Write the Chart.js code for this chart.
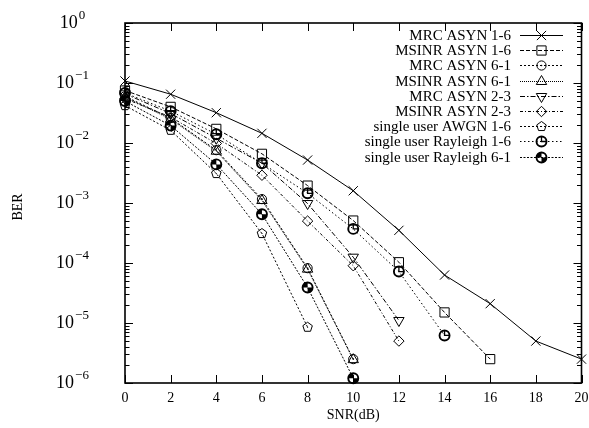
<!DOCTYPE html>
<html><head><meta charset="utf-8">
<script src="https://cdn.jsdelivr.net/npm/chart.js@4/dist/chart.umd.min.js"></script>
<style>html,body{margin:0;padding:0;background:#fff}#c{display:block}</style>
</head><body>
<canvas id="c" width="589" height="428"></canvas>
<script>
// ---- data ----
const snr = [0, 2, 4, 6, 8, 10, 12, 14, 16, 18, 20];
const xTicks = [0, 2, 4, 6, 8, 10, 12, 14, 16, 18, 20];
const yDecades = [0, -1, -2, -3, -4, -5, -6];
const seriesNames = ["MRC ASYN 1-6", "MSINR ASYN 1-6", "MRC ASYN 6-1", "MSINR ASYN 6-1",
  "MRC ASYN 2-3", "MSINR ASYN 2-3", "single user AWGN 1-6", "single user Rayleigh 1-6", "single user Rayleigh 6-1"];
const mrcAsyn16   = [0.108, 0.065, 0.032, 0.0145, 0.0052, 0.0016, 3.5e-4, 6.3e-5, 2.1e-5, 5.0e-6, 2.5e-6];
const msinrAsyn16 = [0.075, 0.040, 0.0172, 0.0066, 0.00195, 5.1e-4, 1.03e-4, 1.5e-5, 2.5e-6];
const mrcAsyn61   = [0.060, 0.026, 0.0076, 0.00116, 8.2e-5, 2.5e-6];
const msinrAsyn61 = [0.058, 0.025, 0.0073, 0.0011, 7.9e-5, 2.45e-6];
const mrcAsyn23   = [0.066, 0.031, 0.0120, 0.0046, 0.00098, 1.25e-4, 1.1e-5];
const msinrAsyn23 = [0.055, 0.027, 0.0098, 0.0029, 5.0e-4, 9.0e-5, 5.0e-6];
const awgn16      = [0.042, 0.0163, 0.0031, 3.1e-4, 8.5e-6];
const rayleigh16  = [0.068, 0.034, 0.0140, 0.0046, 0.00145, 3.7e-4, 7.2e-5, 6.2e-6];
const rayleigh61  = [0.050, 0.0195, 0.0044, 6.5e-4, 3.9e-5, 1.2e-6];

// ---- custom vector markers (drawn at the library's computed point positions) ----
function drawCustom(g, type, x, y) {
  g.save();
  g.translate(x, y);
  g.strokeStyle = '#000'; g.fillStyle = '#000';
  g.setLineDash([]);
  if (type === 'circDot') {
    g.lineWidth = 1; g.beginPath(); g.arc(0, 0, 4.6, 0, 2 * Math.PI); g.stroke();
    g.beginPath(); g.arc(0, 0, 0.8, 0, 2 * Math.PI); g.fill();
  } else if (type === 'pentagon') {
    g.lineWidth = 1; g.beginPath();
    for (let k = 0; k < 5; k++) {
      const a = -Math.PI / 2 + k * 2 * Math.PI / 5;
      const px = 5 * Math.cos(a), py = 5 * Math.sin(a);
      k ? g.lineTo(px, py) : g.moveTo(px, py);
    }
    g.closePath(); g.stroke();
    g.beginPath(); g.arc(0, 0, 0.6, 0, 2 * Math.PI); g.fill();
  } else if (type === 'clock') {
    g.lineWidth = 1.9; g.beginPath(); g.arc(0, 0, 5, 0, 2 * Math.PI); g.stroke();
    g.lineWidth = 1.3; g.beginPath(); g.moveTo(0, -5); g.lineTo(0, 0); g.lineTo(5, 0); g.stroke();
  } else if (type === 'half') {
    g.lineWidth = 1.9; g.beginPath(); g.arc(0, 0, 5, 0, 2 * Math.PI); g.stroke();
    g.beginPath(); g.moveTo(0, 0); g.arc(0, 0, 5, Math.PI, 1.5 * Math.PI); g.closePath(); g.fill();
    g.beginPath(); g.moveTo(0, 0); g.arc(0, 0, 5, 0, 0.5 * Math.PI); g.closePath(); g.fill();
  }
  g.restore();
}

const seriesValues = [mrcAsyn16, msinrAsyn16, mrcAsyn61, msinrAsyn61, mrcAsyn23, msinrAsyn23, awgn16, rayleigh16, rayleigh61];
const styles = [
  { pointStyle: 'crossRot', pointRadius: 6.5, dash: [] },
  { pointStyle: 'rect', pointRadius: 6.5, dash: [4, 2] },
  { custom: 'circDot', dash: [2, 2] },
  { pointStyle: 'triangle', pointRadius: 6, dash: [1, 1] },
  { pointStyle: 'triangle', pointRadius: 6, rotation: 180, dash: [5, 2, 1.5, 2] },
  { pointStyle: 'rectRot', pointRadius: 5.2, dash: [3, 2, 1, 2] },
  { custom: 'pentagon', dash: [2, 2] },
  { custom: 'clock', dash: [1.5, 2.5] },
  { custom: 'half', dash: [2, 1.5] }
];

const datasets = seriesValues.map((vals, i) => ({
  label: seriesNames[i],
  data: vals.map((v, j) => ({ x: snr[j], y: v })),
  borderColor: '#000',
  backgroundColor: 'rgba(0,0,0,0)',
  borderWidth: 1,
  borderDash: styles[i].dash,
  pointStyle: styles[i].pointStyle || 'circle',
  pointRadius: styles[i].custom ? 0 : styles[i].pointRadius,
  pointRotation: styles[i].rotation || 0,
  pointBorderColor: '#000',
  pointBackgroundColor: 'rgba(0,0,0,0)',
  pointBorderWidth: 1,
  markerType: styles[i].custom || null,
  tension: 0,
  clip: false
}));

const SERIF = '"Liberation Serif", "DejaVu Serif", serif';

const framePlugin = {
  id: 'frame',
  beforeDatasetsDraw(chart) {
    const { ctx, chartArea: a, scales: { x, y } } = chart;
    ctx.save();
    ctx.strokeStyle = '#000';
    ctx.lineWidth = 1.6;
    ctx.strokeRect(a.left, a.top, a.right - a.left, a.bottom - a.top);
    ctx.lineWidth = 1;
    ctx.beginPath();
    xTicks.forEach(t => {
      const px = Math.round(x.getPixelForValue(t)) + 0.5;
      ctx.moveTo(px, a.bottom); ctx.lineTo(px, a.bottom - 8);
      ctx.moveTo(px, a.top); ctx.lineTo(px, a.top + 8);
    });
    yDecades.forEach(d => {
      const py = Math.round(y.getPixelForValue(Math.pow(10, d))) + 0.5;
      ctx.moveTo(a.left, py); ctx.lineTo(a.left + 8, py);
      ctx.moveTo(a.right, py); ctx.lineTo(a.right - 8, py);
      if (d > -6) {
        for (let k = 2; k <= 9; k++) {
          const pm = Math.round(y.getPixelForValue(k * Math.pow(10, d - 1))) + 0.5;
          ctx.moveTo(a.left, pm); ctx.lineTo(a.left + 4.5, pm);
          ctx.moveTo(a.right, pm); ctx.lineTo(a.right - 4.5, pm);
        }
      }
    });
    ctx.stroke();
    // tick labels
    ctx.fillStyle = '#000';
    ctx.font = '14px ' + SERIF;
    ctx.textAlign = 'center'; ctx.textBaseline = 'middle';
    xTicks.forEach(t => ctx.fillText(String(t), x.getPixelForValue(t), a.bottom + 15));
    yDecades.forEach(d => {
      const py = y.getPixelForValue(Math.pow(10, d));
      const sup = d === 0 ? '0' : '\u2212' + (-d);
      ctx.font = '18px ' + SERIF; const w1 = ctx.measureText('10').width;
      ctx.font = '13px ' + SERIF; const w2 = ctx.measureText(sup).width;
      const x0 = 72.5 - (w1 + w2 + 1) / 2;
      ctx.textAlign = 'left';
      ctx.font = '18px ' + SERIF; ctx.fillText('10', x0, py);
      ctx.font = '13px ' + SERIF; ctx.fillText(sup, x0 + w1 + 1, py - 7);
    });
    // axis titles
    ctx.font = '14px ' + SERIF; ctx.textAlign = 'center';
    ctx.fillText('SNR(dB)', (a.left + a.right) / 2, 415);
    ctx.save(); ctx.translate(18, 207); ctx.rotate(-Math.PI / 2); ctx.fillText('BER', 0, 0); ctx.restore();
    ctx.restore();
  },
  afterDatasetsDraw(chart) {
    const { ctx } = chart;
    // custom markers at the positions computed by the library
    chart.data.datasets.forEach((ds, i) => {
      if (!ds.markerType) return;
      chart.getDatasetMeta(i).data.forEach(el => drawCustom(ctx, ds.markerType, el.x, el.y));
    });
    // legend
    ctx.save();
    ctx.strokeStyle = '#000';
    ctx.font = '15px ' + SERIF; ctx.textAlign = 'right'; ctx.textBaseline = 'middle';
    chart.data.datasets.forEach((ds, i) => {
      const yy = 35 + i * 15.2;
      const ly = Math.round(yy) + 0.5;
      ctx.fillStyle = '#000';
      ctx.fillText(ds.label, 511, yy + 1);
      ctx.lineWidth = 1; ctx.setLineDash(ds.borderDash);
      ctx.beginPath(); ctx.moveTo(520, ly); ctx.lineTo(563, ly); ctx.stroke();
      ctx.setLineDash([]);
      if (ds.markerType) {
        drawCustom(ctx, ds.markerType, 541.5, ly);
      } else {
        ctx.fillStyle = 'rgba(0,0,0,0)';
        ctx.lineWidth = 1;
        Chart.helpers.drawPoint(ctx, { pointStyle: ds.pointStyle, radius: ds.pointRadius, rotation: ds.pointRotation, borderWidth: 1 }, 541.5, ly);
      }
    });
    ctx.restore();
  }
};

new Chart(document.getElementById('c'), {
  type: 'line',
  data: { datasets },
  options: {
    responsive: false,
    animation: false,
    devicePixelRatio: 1,
    layout: { padding: { left: 125, right: 7, top: 23, bottom: 45 } },
    plugins: { legend: { display: false }, tooltip: { enabled: false } },
    scales: {
      x: { type: 'linear', min: 0, max: 20, display: false },
      y: { type: 'logarithmic', min: 1e-6, max: 1, display: false }
    }
  },
  plugins: [framePlugin]
});
</script>
</body></html>
